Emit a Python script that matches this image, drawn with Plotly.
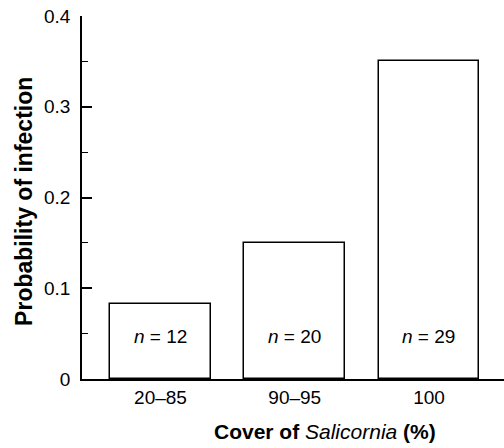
import plotly.graph_objects as go

categories = ["20–85", "90–95", "100"]
probability = [0.083, 0.15, 0.35]
n_labels = ["<i>n</i> = 12", "<i>n</i> = 20", "<i>n</i> = 29"]
y_tickvals = [0, 0.1, 0.2, 0.3, 0.4]
y_ticktext = ["0", "0.1", "0.2", "0.3", "0.4"]
n_label_y = 0.047

FONT = "Liberation Sans, Arial, sans-serif"

fig = go.Figure()
fig.add_trace(go.Bar(
    x=categories, y=probability, width=0.752,
    marker=dict(color="white", line=dict(color="black", width=1.5)),
    hoverinfo="skip", showlegend=False,
))

for i, t in enumerate(n_labels):
    fig.add_annotation(x=i, y=n_label_y, text=t, showarrow=False,
                       font=dict(family=FONT, size=19, color="black"),
                       xanchor="center", yanchor="middle")

fig.add_annotation(xref="paper", yref="paper", x=-0.138, y=0.49,
                   text="<b>Probability of infection</b>", textangle=-90,
                   showarrow=False, xanchor="center", yanchor="middle",
                   font=dict(family=FONT, size=23, color="black"))
fig.add_annotation(xref="paper", yref="paper", x=0.576, y=-0.145,
                   text="<b>Cover of </b><i>Salicornia</i><b> (%)</b>",
                   showarrow=False, xanchor="center", yanchor="middle",
                   font=dict(family=FONT, size=21, color="black"))

fig.update_xaxes(
    type="category", range=[-0.585, 2.559],
    showline=True, linecolor="black", linewidth=1.5,
    ticks="", showgrid=False, zeroline=False,
    tickfont=dict(family=FONT, size=19, color="black"),
)
fig.update_yaxes(
    range=[0, 0.4], tickvals=y_tickvals, ticktext=y_ticktext,
    showline=True, linecolor="black", linewidth=1.5,
    ticks="inside", ticklen=10, tickwidth=1.5, tickcolor="black",
    minor=dict(ticks="inside", ticklen=6, tickwidth=1.2, tickcolor="black", dtick=0.05),
    ticklabelstandoff=6,
    showgrid=False, zeroline=False,
    tickfont=dict(family=FONT, size=19, color="black"),
)

fig.update_layout(
    width=504, height=448,
    margin=dict(l=82, r=0, t=16, b=69, pad=0),
    paper_bgcolor="white", plot_bgcolor="white",
    bargap=0,
)

fig.write_html("out.html")
